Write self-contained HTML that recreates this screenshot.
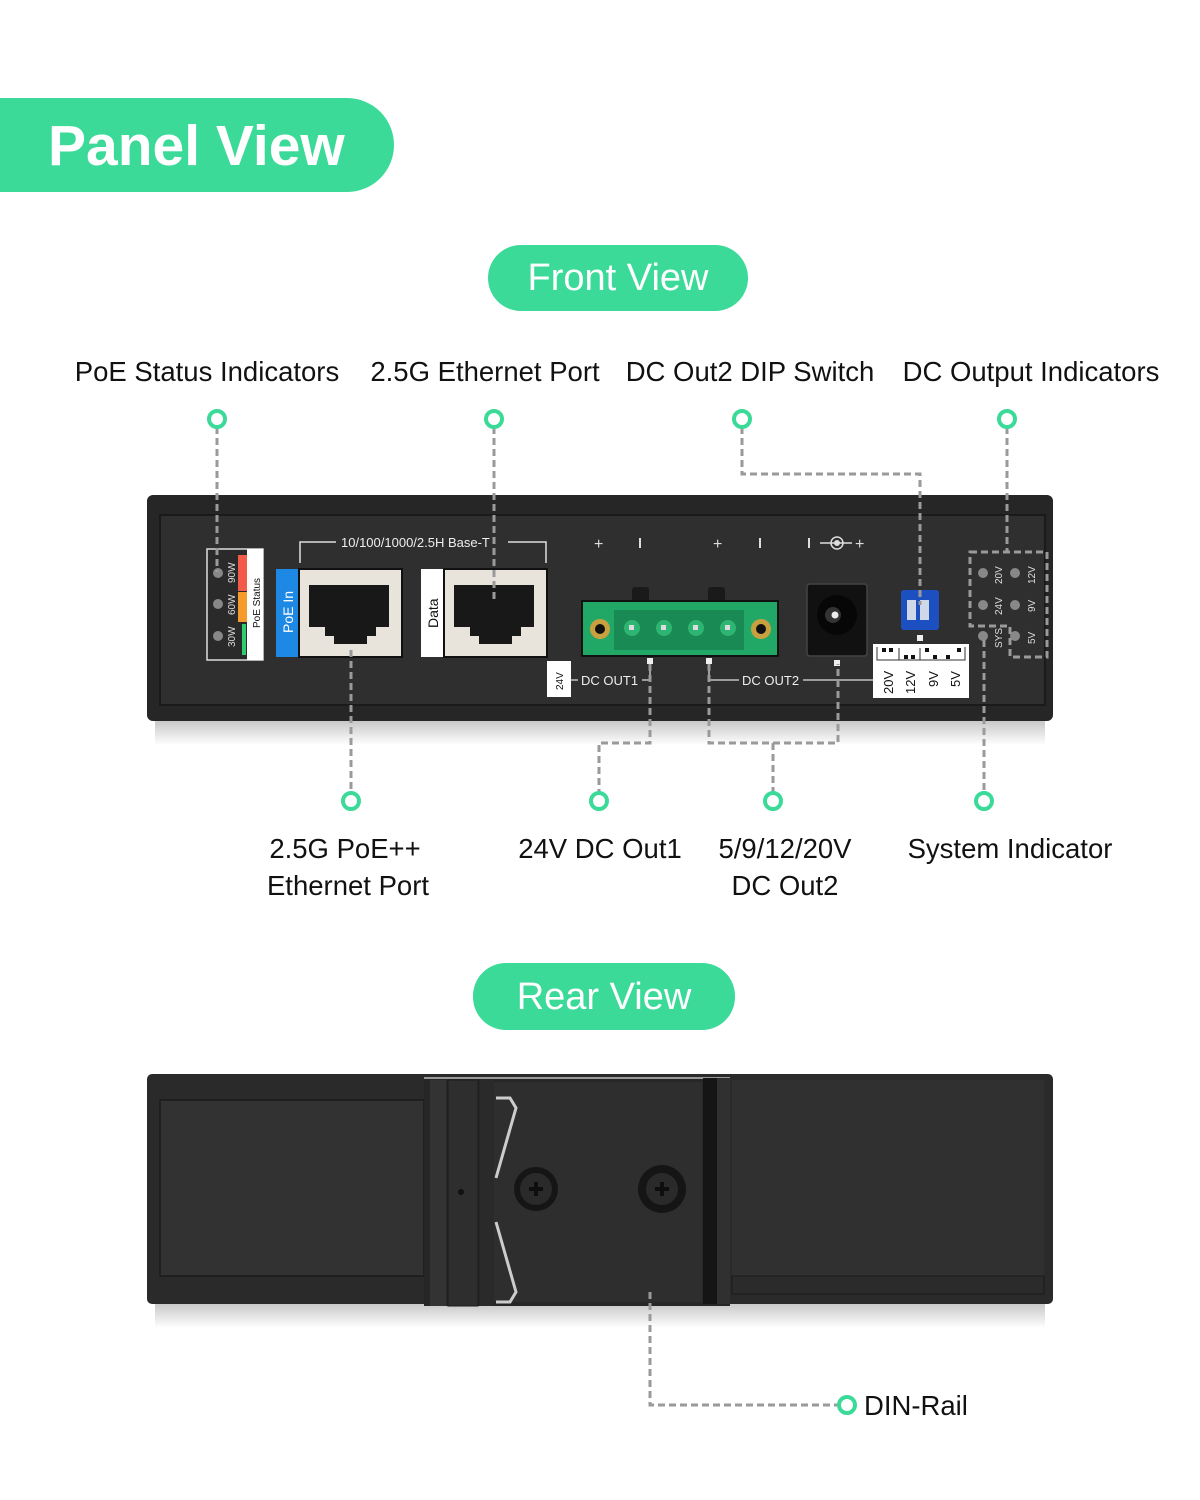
<!DOCTYPE html>
<html><head><meta charset="utf-8"><style>
html,body{margin:0;padding:0;background:#fff;}
svg{display:block;font-family:"Liberation Sans",sans-serif;}
</style></head><body>
<svg width="1200" height="1500" viewBox="0 0 1200 1500" xmlns="http://www.w3.org/2000/svg">
<defs>
<linearGradient id="sh" x1="0" y1="0" x2="0" y2="1"><stop offset="0" stop-color="#bbb"/><stop offset="1" stop-color="#fff"/></linearGradient>
</defs>
<path d="M0 98 H347 A47 47 0 0 1 347 192 H0 Z" fill="#3bda98"/>
<text x="48" y="165" font-size="57" font-weight="bold" fill="#fff">Panel View</text>
<rect x="488" y="245" width="260" height="66" rx="33" fill="#3bda98"/>
<text x="618" y="290" font-size="38" fill="#fff" text-anchor="middle">Front View</text>
<rect x="473" y="963" width="262" height="67" rx="33" fill="#3bda98"/>
<text x="604" y="1009" font-size="38" fill="#fff" text-anchor="middle">Rear View</text>

<g font-size="27.5" fill="#111" text-anchor="middle">
<text x="207" y="381">PoE Status Indicators</text>
<text x="485" y="381">2.5G Ethernet Port</text>
<text x="750" y="381">DC Out2 DIP Switch</text>
<text x="1031" y="381">DC Output Indicators</text>
<text x="345" y="858">2.5G PoE++</text>
<text x="348" y="895">Ethernet Port</text>
<text x="600" y="858">24V DC Out1</text>
<text x="785" y="858">5/9/12/20V</text>
<text x="785" y="895">DC Out2</text>
<text x="1010" y="858">System Indicator</text>
<text x="864" y="1415" text-anchor="start">DIN-Rail</text>
</g>

<rect x="155" y="715" width="890" height="30" fill="url(#sh)"/>
<rect x="147" y="495" width="906" height="226" rx="6" fill="#262626"/>
<rect x="160" y="515" width="885" height="190" fill="#2f2f2f" stroke="#1a1a1a" stroke-width="2"/>
<rect x="207" y="549" width="56" height="111" fill="#2a2a2a" stroke="#ddd" stroke-width="1.5"/>
<rect x="247" y="549" width="16" height="111" fill="#fff"/>
<text transform="translate(260,628) rotate(-90)" font-size="10" fill="#111">PoE Status</text>
<rect x="238" y="555" width="9" height="36" fill="#f25a4a"/>
<rect x="238" y="592" width="9" height="30" fill="#f59a2c"/>
<rect x="242" y="624" width="4" height="31" fill="#2ecc71"/>
<g fill="#888"><circle cx="218" cy="573" r="5"/><circle cx="218" cy="604" r="5"/><circle cx="218" cy="636" r="5"/></g>
<g font-size="10" fill="#ddd">
<text transform="translate(235,583) rotate(-90)">90W</text>
<text transform="translate(235,615) rotate(-90)">60W</text>
<text transform="translate(235,647) rotate(-90)">30W</text>
</g>
<path d="M300 563 V542 H336 M508 542 H546 V563" stroke="#ddd" stroke-width="1.5" fill="none"/>
<text x="341" y="547" font-size="13" fill="#eee">10/100/1000/2.5H Base-T</text>
<rect x="276" y="569" width="23" height="88" fill="#1e88e5"/>
<text transform="translate(293,633) rotate(-90)" font-size="14" fill="#fff">PoE In</text>
<rect x="299" y="569" width="103" height="88" fill="#e8e4dc" stroke="#111" stroke-width="2"/>
<path d="M309 585 H389 V627 H376 V636 H367 V644 H334 V636 H325 V627 H309 Z" fill="#181818"/>
<rect x="421" y="569" width="23" height="88" fill="#fff"/>
<text transform="translate(438,628) rotate(-90)" font-size="14" fill="#111">Data</text>
<rect x="444" y="569" width="103" height="88" fill="#e8e4dc" stroke="#111" stroke-width="2"/>
<path d="M454 585 H534 V627 H521 V636 H512 V644 H479 V636 H470 V627 H454 Z" fill="#181818"/>
<g fill="#ddd" font-size="16">
<text x="594" y="549">+</text><rect x="639" y="538" width="2" height="10"/>
<text x="713" y="549">+</text><rect x="759" y="538" width="2" height="10"/>
<rect x="808" y="538" width="2" height="10"/>
<text x="855" y="549">+</text>
</g>
<path d="M820 543 H852" stroke="#ddd" stroke-width="1.5"/>
<circle cx="837" cy="543" r="6" fill="none" stroke="#ddd" stroke-width="1.5"/><circle cx="837" cy="543" r="3" fill="#ddd"/>
<rect x="632" y="587" width="17" height="16" rx="3" fill="#1a1a1a"/>
<rect x="708" y="587" width="17" height="16" rx="3" fill="#1a1a1a"/>
<rect x="582" y="601" width="196" height="55" fill="#22a866" stroke="#111" stroke-width="2"/>
<rect x="614" y="610" width="130" height="40" fill="#1a8a54"/>
<g fill="#2db573"><circle cx="632" cy="628" r="8"/><circle cx="664" cy="628" r="8"/><circle cx="696" cy="628" r="8"/><circle cx="728" cy="628" r="8"/></g>
<g fill="#ddd"><rect x="629" y="625" width="5" height="5"/><rect x="661" y="625" width="5" height="5"/><rect x="693" y="625" width="5" height="5"/><rect x="725" y="625" width="5" height="5"/></g>
<circle cx="600" cy="629" r="10" fill="#c9a040"/><circle cx="600" cy="629" r="5" fill="#111"/>
<circle cx="761" cy="629" r="10" fill="#c9a040"/><circle cx="761" cy="629" r="5" fill="#111"/>
<rect x="807" y="584" width="60" height="72" rx="3" fill="#111" stroke="#444" stroke-width="1.5"/>
<circle cx="837" cy="615" r="20" fill="#070707"/><circle cx="833" cy="615" r="8" fill="#333"/><circle cx="835" cy="615" r="3.5" fill="#eee"/>
<rect x="901" y="590" width="38" height="40" rx="3" fill="#1c4fc0"/>
<rect x="907" y="600" width="9" height="20" fill="#cfd8e8"/><rect x="920" y="600" width="9" height="20" fill="#cfd8e8"/>
<rect x="873" y="644" width="96" height="54" fill="#fff"/>
<path d="M877 647 V660 H965 V647 M899 648 V660 M920 648 V660" stroke="#333" stroke-width="1" fill="none"/>
<g fill="#111"><rect x="882" y="648" width="4" height="4"/><rect x="889" y="648" width="4" height="4"/><rect x="904" y="655" width="4" height="4"/><rect x="911" y="655" width="4" height="4"/><rect x="925" y="648" width="4" height="4"/><rect x="933" y="655" width="4" height="4"/><rect x="946" y="655" width="4" height="4"/><rect x="957" y="648" width="4" height="4"/></g>
<g font-size="13" fill="#111">
<text transform="translate(893,694) rotate(-90)">20V</text>
<text transform="translate(915,694) rotate(-90)">12V</text>
<text transform="translate(938,687) rotate(-90)">9V</text>
<text transform="translate(960,687) rotate(-90)">5V</text>
</g>
<rect x="547" y="661" width="24" height="36" fill="#fff"/>
<text transform="translate(563,690) rotate(-90)" font-size="10" fill="#111">24V</text>
<path d="M571 680 H578 M642 680 H650 V662 M709 662 V680 H739 M803 680 H873" stroke="#ddd" stroke-width="1.3" fill="none"/>
<text x="581" y="685" font-size="13" fill="#eee">DC OUT1</text>
<text x="742" y="685" font-size="13" fill="#eee">DC OUT2</text>
<g fill="#eee"><rect x="647" y="658" width="6" height="6"/><rect x="706" y="658" width="6" height="6"/><rect x="834" y="660" width="6" height="6"/><rect x="917" y="635" width="6" height="6"/></g>
<g fill="#888"><circle cx="983" cy="573" r="5"/><circle cx="1015" cy="573" r="5"/><circle cx="983" cy="605" r="5"/><circle cx="1015" cy="605" r="5"/><circle cx="983" cy="636" r="5"/><circle cx="1015" cy="636" r="5"/></g>
<g font-size="10" fill="#ddd">
<text transform="translate(1002,584) rotate(-90)">20V</text>
<text transform="translate(1035,584) rotate(-90)">12V</text>
<text transform="translate(1002,615) rotate(-90)">24V</text>
<text transform="translate(1035,612) rotate(-90)">9V</text>
<text transform="translate(1002,648) rotate(-90)">SYS</text>
<text transform="translate(1035,644) rotate(-90)">5V</text>
</g>

<rect x="155" y="1298" width="890" height="30" fill="url(#sh)"/>
<rect x="147" y="1074" width="906" height="230" rx="5" fill="#2a2a2a"/>
<rect x="160" y="1100" width="264" height="176" fill="#323232" stroke="#1a1a1a" stroke-width="1.5"/>
<rect x="732" y="1080" width="312" height="196" fill="#303030"/>
<rect x="732" y="1276" width="312" height="18" fill="#2b2b2b" stroke="#1a1a1a" stroke-width="1"/>
<rect x="424" y="1078" width="306" height="228" fill="#262626"/>
<rect x="424" y="1077" width="306" height="2" fill="#999"/>
<rect x="430" y="1080" width="16" height="226" fill="#333"/>
<rect x="448" y="1080" width="30" height="226" fill="#2e2e2e" stroke="#1c1c1c"/>
<rect x="480" y="1080" width="14" height="226" fill="#2a2a2a"/>
<rect x="494" y="1082" width="208" height="220" fill="#2e2e2e"/>
<rect x="703" y="1078" width="14" height="226" fill="#151515"/>
<rect x="717" y="1078" width="13" height="226" fill="#303030"/>
<circle cx="461" cy="1192" r="3" fill="#111"/>
<path d="M496 1098 H510 L516 1108 L496 1178 M496 1222 L516 1292 L510 1302 H496" stroke="#ccc" stroke-width="3" fill="none"/>
<circle cx="536" cy="1189" r="22" fill="#151515"/><circle cx="536" cy="1189" r="16" fill="#2a2a2a"/>
<path d="M529 1189 H543 M536 1182 V1196" stroke="#0e0e0e" stroke-width="4"/>
<circle cx="662" cy="1189" r="24" fill="#151515"/><circle cx="662" cy="1189" r="16" fill="#2a2a2a"/>
<path d="M655 1189 H669 M662 1182 V1196" stroke="#0e0e0e" stroke-width="4"/>

<g stroke="#9a9a9a" stroke-width="3" stroke-dasharray="7 4" fill="none">
<path d="M217 427 V572"/>
<path d="M494 427 V600"/>
<path d="M742 427 V474 H920 V605"/>
<path d="M1007 427 V552 M970 552 H1047 V657 H1010 V626 H970 Z"/>
<path d="M351 650 V792"/>
<path d="M650 664 V743 H599 V792"/>
<path d="M709 664 V743 H838 V664"/>
<path d="M773 743 V792"/>
<path d="M984 640 V792"/>
<path d="M650 1292 V1405 H838"/>
</g>
<g fill="#fff" stroke="#3bda98" stroke-width="4">
<circle cx="217" cy="419" r="8"/><circle cx="494" cy="419" r="8"/><circle cx="742" cy="419" r="8"/><circle cx="1007" cy="419" r="8"/>
<circle cx="351" cy="801" r="8"/><circle cx="599" cy="801" r="8"/><circle cx="773" cy="801" r="8"/><circle cx="984" cy="801" r="8"/>
<circle cx="847" cy="1405" r="8"/>
</g>
</svg>
</body></html>
